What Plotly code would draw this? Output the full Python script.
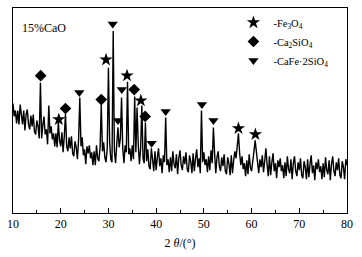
import numpy as np
import plotly.graph_objects as go

# XRD pattern, sampled every 0.25 deg from 10 to 80 (intensity, a.u.)
two_theta_start = 10.0
two_theta_step = 0.25
intensity_rows = [
    [110, 97, 103, 90],   # 10
    [103, 89, 109, 96],   # 11
    [89, 103, 83, 99],    # 12
    [104, 89, 84, 98],    # 13
    [87, 99, 82, 79],     # 14
    [93, 87, 75, 131],    # 15
    [75, 88, 97, 79],     # 16
    [84, 69, 108, 80],    # 17
    [87, 74, 80, 67],     # 18
    [80, 66, 92, 73],     # 19
    [67, 81, 61, 77],     # 20
    [100, 67, 62, 76],    # 21
    [65, 77, 60, 57],     # 22
    [72, 66, 54, 74],     # 23
    [116, 67, 76, 58],    # 24
    [64, 49, 67, 60],     # 25
    [68, 55, 61, 48],     # 26
    [62, 48, 68, 55],     # 27
    [52, 66, 109, 62],    # 28
    [71, 56, 51, 65],     # 29
    [146, 71, 54, 51],    # 30
    [183, 62, 50, 70],    # 31
    [86, 66, 75, 116],    # 32
    [65, 50, 68, 61],     # 33
    [132, 59, 65, 52],    # 34
    [68, 54, 117, 61],    # 35
    [106, 69, 49, 65],    # 36
    [108, 55, 50, 91],    # 37
    [52, 64, 47, 44],     # 38
    [65, 54, 42, 62],     # 39
    [43, 56, 65, 47],     # 40
    [55, 40, 58, 51],     # 41
    [96, 48, 54, 41],     # 42
    [56, 42, 62, 49],     # 43
    [45, 59, 39, 55],     # 44
    [63, 48, 43, 57],     # 45
    [49, 61, 44, 41],     # 46
    [58, 52, 40, 60],     # 47
    [42, 55, 64, 46],     # 48
    [55, 40, 103, 51],    # 49
    [61, 48, 54, 41],     # 50
    [57, 43, 63, 50],     # 51
    [86, 60, 40, 56],     # 52
    [62, 47, 42, 56],     # 53
    [47, 59, 42, 39],     # 54
    [56, 50, 38, 58],     # 55
    [40, 53, 62, 55],     # 56
    [66, 80, 60, 48],     # 57
    [57, 44, 50, 37],     # 58
    [53, 39, 59, 46],     # 59
    [42, 56, 62, 73],     # 60
    [62, 50, 40, 54],     # 61
    [46, 58, 41, 52],     # 62
    [65, 49, 37, 57],     # 63
    [38, 51, 60, 42],     # 64
    [50, 35, 53, 46],     # 65
    [55, 42, 48, 35],     # 66
    [51, 37, 57, 44],     # 67
    [40, 54, 34, 50],     # 68
    [57, 42, 37, 51],     # 69
    [43, 55, 38, 35],     # 70
    [52, 46, 34, 54],     # 71
    [36, 49, 58, 40],     # 72
    [48, 33, 51, 44],     # 73
    [54, 41, 47, 34],     # 74
    [50, 36, 56, 43],     # 75
    [39, 53, 33, 49],     # 76
    [57, 42, 37, 51],     # 77
    [43, 55, 38, 35],     # 78
    [52, 46, 34, 54],     # 79
    [48],                 # 80
]

# phase markers (2theta, marker height)
fe3o4_x = [19.6, 29.5, 33.9, 36.8, 57.25, 60.8]
fe3o4_y = [94, 154, 138, 113, 85, 79]
ca2sio4_x = [15.8, 21.0, 28.5, 35.4, 37.7]
ca2sio4_y = [138, 105, 114, 124, 97]
cafesio_x = [23.9, 30.9, 32.0, 32.8, 39.05, 42.0, 49.6, 52.0]
cafesio_y = [121, 190, 93, 124, 70, 102, 109, 93]

x_ticks = [10, 20, 30, 40, 50, 60, 70, 80]

intensity = [v for row in intensity_rows for v in row]
two_theta = two_theta_start + two_theta_step * np.arange(len(intensity))

serif = "Liberation Serif, Times New Roman, serif"

fig = go.Figure()
fig.add_trace(go.Scatter(x=two_theta, y=intensity, mode="lines",
                         line=dict(color="black", width=1.4), showlegend=False,
                         hoverinfo="skip"))
fig.add_trace(go.Scatter(x=fe3o4_x, y=fe3o4_y, mode="markers",
                         marker=dict(symbol="star", size=10, color="black"),
                         name="-Fe<sub>3</sub>O<sub>4</sub>"))
fig.add_trace(go.Scatter(x=ca2sio4_x, y=ca2sio4_y, mode="markers",
                         marker=dict(symbol="diamond", size=9, color="black"),
                         name="-Ca<sub>2</sub>SiO<sub>4</sub>"))
fig.add_trace(go.Scatter(x=cafesio_x, y=cafesio_y, mode="markers",
                         marker=dict(symbol="triangle-down", size=9, color="black"),
                         name="-CaFe·2SiO<sub>4</sub>"))

fig.update_layout(
    width=362, height=257,
    margin=dict(l=10, r=15, t=7, b=44),
    paper_bgcolor="white", plot_bgcolor="white",
    font=dict(family=serif, size=12, color="black"),
    legend=dict(x=0.66, y=1.0, xanchor="left", yanchor="top",
                bgcolor="rgba(0,0,0,0)", font=dict(family=serif, size=10.5),
                itemwidth=30, tracegroupgap=0),
    annotations=[dict(text="15%CaO", x=0.02, y=0.90, xref="paper", yref="paper",
                      xanchor="left", yanchor="middle", showarrow=False,
                      font=dict(family=serif, size=12))],
)
fig.update_xaxes(range=[10, 80], tickvals=x_ticks, ticks="inside", ticklen=5,
                 tickwidth=1, tickcolor="black", showline=True, linecolor="black",
                 linewidth=1, mirror=True, showgrid=False, zeroline=False,
                 minor=dict(dtick=5, tick0=5, ticks="inside", ticklen=3,
                            tickcolor="black"),
                 title=dict(text="2 <i>θ</i>/(°)", font=dict(family=serif, size=12),
                            standoff=8),
                 tickfont=dict(family=serif, size=12))
fig.update_yaxes(range=[0, 206], showticklabels=False, ticks="", showline=True,
                 linecolor="black", linewidth=1, mirror=True, showgrid=False,
                 zeroline=False)

fig.write_html("out.html", config={"displayModeBar": False},
               post_script="document.body.style.margin='0';")
